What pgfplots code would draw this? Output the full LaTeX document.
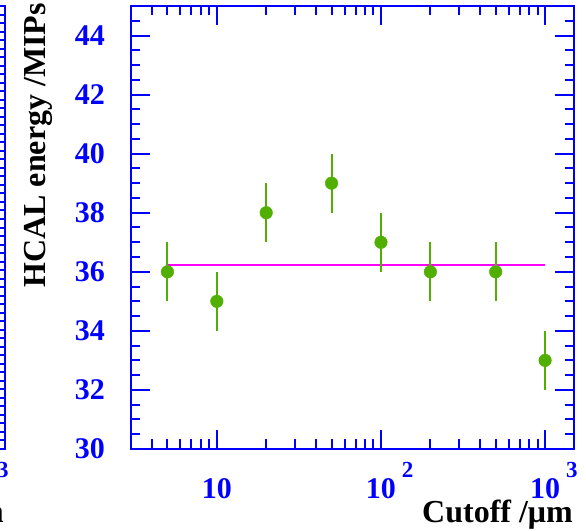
\documentclass[border=0pt]{standalone}
\usepackage{pgfplots}
\pgfplotsset{compat=1.18}
\usepackage{fontspec}
\setmainfont{Liberation Serif}
\definecolor{rootblue}{RGB}{0,0,255}
\definecolor{ptgreen}{RGB}{80,175,0}
\definecolor{fitmag}{RGB}{255,0,255}

\newcommand{\expsup}[1]{\rlap{\hspace{6pt}\raisebox{21pt}{\fontsize{23}{23}\selectfont #1}}}

\pgfplotsset{
  rootframe/.style={
    scale only axis,
    width=443pt, height=443pt,
    xmin=3, xmax=1500,
    axis line style={rootblue, line width=2.7pt},
    every tick/.style={rootblue, line width=2pt},
    tick align=inside,
    major tick length=19pt,
    minor tick length=9.5pt,
    xtick={10,100,1000},
    minor xtick={4,5,6,7,8,9,20,30,40,50,60,70,80,90,200,300,400,500,600,700,800,900},
    xticklabels={10,10\expsup{2},10\expsup{3}},
    xticklabel style={font=\fontsize{30}{30}\selectfont\bfseries, text=rootblue,
      anchor=base, inner sep=0pt, yshift=-49pt},
    yticklabel style={font=\fontsize{30}{30}\selectfont\bfseries, text=rootblue,
      anchor=east, inner sep=0pt, xshift=-26pt},
    xlabel={Cutoff /μm},
    xlabel style={font=\fontsize{32}{32}\selectfont\bfseries, inner sep=0pt,
      at={(axis description cs:1,0)}, anchor=base east, xshift=-1pt, yshift=-73pt},
  }
}

\begin{document}
\begin{tikzpicture}
\path[use as bounding box] (0,0) rectangle (586pt,530pt);

% sliver of the neighbouring panel on the left
\begin{semilogxaxis}[rootframe,
  at={(-438pt,81pt)}, anchor=south west,
  ymin=0, ymax=52,
  ytick={0,10,20,30,40,50},
  minor ytick={0,1,...,52},
  yticklabels={},
]
\end{semilogxaxis}

\begin{semilogxaxis}[rootframe,
  at={(131pt,81pt)}, anchor=south west,
  ymin=30, ymax=45,
  ytick={30,32,34,36,38,40,42,44},
  yticklabels={30,32,34,36,38,40,42,44},
  minor ytick={30.5,31,31.5,32.5,33,33.5,34.5,35,35.5,36.5,37,37.5,38.5,39,39.5,40.5,41,41.5,42.5,43,43.5,44.5},
  ylabel={HCAL energy /MIPs},
  ylabel style={font=\fontsize{32}{32}\selectfont\bfseries, inner sep=0pt,
    at={(axis description cs:0,1)}, anchor=base east, xshift=3pt, yshift=86pt},
]
% flat fit
\addplot[fitmag, line width=1.8pt] coordinates {(5,36.23) (1000,36.23)};
% data points
\addplot[ptgreen, only marks, mark=*, mark size=6.3pt,
  mark options={fill=ptgreen, draw=ptgreen},
  error bars/.cd, y dir=both, y explicit,
  error bar style={line width=2pt, ptgreen}, error mark=none]
  coordinates {
    (5,36) +- (0,1)
    (10,35) +- (0,1)
    (20,38) +- (0,1)
    (50,39) +- (0,1)
    (100,37) +- (0,1)
    (200,36) +- (0,1)
    (500,36) +- (0,1)
    (1000,33) +- (0,1)
  };
\end{semilogxaxis}
\end{tikzpicture}
\end{document}
